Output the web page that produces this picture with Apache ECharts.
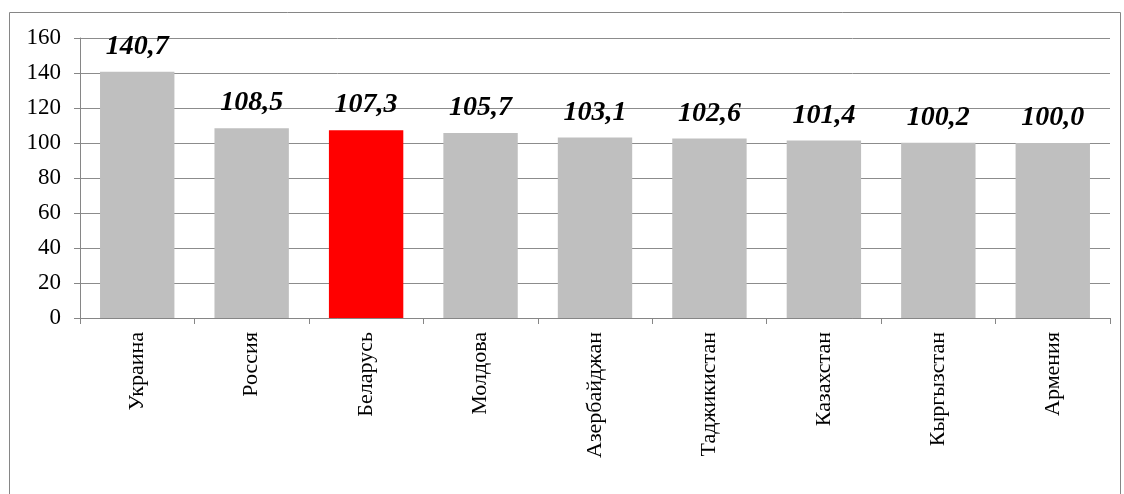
<!DOCTYPE html>
<html><head><meta charset="utf-8">
<script src="https://cdn.jsdelivr.net/npm/echarts@6/dist/echarts.min.js"></script>
<style>html,body{margin:0;padding:0;background:#fff}#c{width:1124px;height:494px}</style>
</head><body><div id="c"></div>
<script>
const categories = ['Украина','Россия','Беларусь','Молдова','Азербайджан','Таджикистан','Казахстан','Кыргызстан','Армения'];
const values = [140.7,108.5,107.3,105.7,103.1,102.6,101.4,100.2,100.0];
const highlight = 'Беларусь';
const yTicks = {min:0,max:160,interval:20};
const SERIF = '"Liberation Serif", "Times New Roman", serif';

const chart = echarts.init(document.getElementById('c'));
chart.setOption({
  animation:false,
  graphic:[{type:'rect',shape:{x:9.5,y:12.5,width:1111,height:490},style:{fill:null,stroke:'#868686',lineWidth:1},silent:true}],
  grid:{left:80,right:14,top:38,bottom:176},
  xAxis:{type:'category',data:categories,
    axisLine:{lineStyle:{color:'#868686'}},
    axisTick:{show:true,length:6,lineStyle:{color:'#868686'}},
    axisLabel:{rotate:90,fontFamily:SERIF,fontSize:22,color:'#000',margin:14}},
  yAxis:{type:'value',min:yTicks.min,max:yTicks.max,interval:yTicks.interval,
    axisLine:{show:true,lineStyle:{color:'#868686'}},
    axisTick:{show:true,length:6,lineStyle:{color:'#868686'}},
    splitLine:{lineStyle:{color:'#8c8c8c'}},
    axisLabel:{fontFamily:SERIF,fontSize:23,color:'#000',margin:19}},
  series:[{type:'bar',barCategoryGap:'35%',
    data:values.map((v,i)=>({value:v,itemStyle:{color:categories[i]===highlight?'#FF0000':'#BFBFBF'}})),
    label:{show:true,position:'top',distance:11,fontFamily:SERIF,fontSize:28,fontWeight:'bold',fontStyle:'italic',color:'#000',
      formatter:p=>p.value.toFixed(1).replace('.',',')}}]
});
</script></body></html>
